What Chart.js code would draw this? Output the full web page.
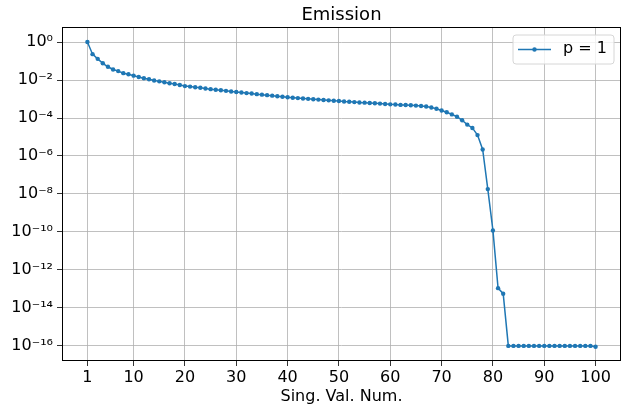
<!DOCTYPE html>
<html>
<head>
<meta charset="utf-8">
<title>Emission</title>
<script src="https://cdn.jsdelivr.net/npm/chart.js@4/dist/chart.umd.min.js"></script>
<style>
  html, body { margin: 0; padding: 0; background: #fff; }
  #wrap { width: 630px; height: 408px; }
</style>
</head>
<body>
<div id="wrap"><canvas id="chart" width="630" height="408"></canvas></div>
<script>
// Singular values of the emission operator, p = 1
const emission = [
  1.0e0, 2.3e-1, 1.3e-1, 7.6e-2, 5.0e-2, 3.6e-2, 2.95e-2, 2.3e-2, 2.0e-2, 1.7e-2,
  1.45e-2, 1.23e-2, 1.1e-2, 9.5e-3, 8.5e-3, 7.6e-3, 6.8e-3, 6.2e-3, 5.5e-3, 4.8e-3,
  4.5e-3, 4.2e-3, 3.9e-3, 3.55e-3, 3.3e-3, 3.1e-3, 2.9e-3, 2.7e-3, 2.5e-3, 2.35e-3,
  2.2e-3, 2.05e-3, 1.95e-3, 1.8e-3, 1.7e-3, 1.6e-3, 1.5e-3, 1.4e-3, 1.32e-3, 1.23e-3,
  1.17e-3, 1.12e-3, 1.07e-3, 1.02e-3, 9.8e-4, 9.3e-4, 8.9e-4, 8.5e-4, 8.1e-4, 7.8e-4,
  7.4e-4, 7.2e-4, 6.9e-4, 6.6e-4, 6.45e-4, 6.2e-4, 6.0e-4, 5.75e-4, 5.5e-4, 5.25e-4,
  5.1e-4, 4.9e-4, 4.8e-4, 4.7e-4, 4.5e-4, 4.3e-4, 4.0e-4, 3.6e-4, 3.1e-4, 2.5e-4,
  2.0e-4, 1.55e-4, 1.17e-4, 7.6e-5, 4.5e-5, 3.0e-5, 1.26e-5, 2.2e-6, 1.8e-8, 1.2e-10,
  1.1e-13, 5.6e-14, 1.0e-16, 1.0e-16, 1.0e-16, 1.0e-16, 1.0e-16, 1.0e-16, 1.0e-16, 1.0e-16,
  1.0e-16, 1.0e-16, 1.0e-16, 1.0e-16, 1.0e-16, 1.0e-16, 1.0e-16, 1.0e-16, 1.0e-16, 9.0e-17
];
const singNum = emission.map((_, i) => i + 1);

const xTicks = [1, 10, 20, 30, 40, 50, 60, 70, 80, 90, 100];
const yTicks = [1e0, 1e-2, 1e-4, 1e-6, 1e-8, 1e-10, 1e-12, 1e-14, 1e-16];
const yTickLabels = ['10⁰', '10⁻²', '10⁻⁴', '10⁻⁶', '10⁻⁸', '10⁻¹⁰', '10⁻¹²', '10⁻¹⁴', '10⁻¹⁶'];

const BLUE = '#1f77b4';
const FONT = '"DejaVu Sans", sans-serif';

// Title, frame and the in-axes legend
const decorations = {
  id: 'decorations',
  afterDraw(chart) {
    const { ctx, chartArea: a } = chart;
    ctx.save();
    // frame (top and right spines too)
    ctx.strokeStyle = '#000';
    ctx.lineWidth = 1;
    ctx.strokeRect(a.left + 0.5, a.top + 0.5, a.right - a.left - 1, a.bottom - a.top - 1);

    // title
    ctx.fillStyle = '#000';
    ctx.font = '18px ' + FONT;
    ctx.textAlign = 'center';
    ctx.textBaseline = 'middle';
    ctx.fillText('Emission', (a.left + a.right) / 2, 15);

    // legend box
    const bx = 513, by = 35, bw = 101, bh = 29, r = 3;
    ctx.beginPath();
    ctx.moveTo(bx + r, by);
    ctx.arcTo(bx + bw, by, bx + bw, by + bh, r);
    ctx.arcTo(bx + bw, by + bh, bx, by + bh, r);
    ctx.arcTo(bx, by + bh, bx, by, r);
    ctx.arcTo(bx, by, bx + bw, by, r);
    ctx.closePath();
    ctx.fillStyle = 'rgba(255,255,255,0.8)';
    ctx.fill();
    ctx.strokeStyle = '#d6d6d6';
    ctx.stroke();

    ctx.strokeStyle = BLUE;
    ctx.lineWidth = 1.5;
    ctx.beginPath();
    ctx.moveTo(518, 49.5);
    ctx.lineTo(551, 49.5);
    ctx.stroke();
    ctx.fillStyle = BLUE;
    ctx.beginPath();
    ctx.arc(534.5, 49.5, 2.2, 0, Math.PI * 2);
    ctx.fill();

    ctx.fillStyle = '#000';
    ctx.font = '16px ' + FONT;
    ctx.textAlign = 'left';
    ctx.fillText(chart.data.datasets[0].label, 563, 49);
    ctx.restore();
  }
};

const ctx = document.getElementById('chart').getContext('2d');
const chart = new Chart(ctx, {
  type: 'line',
  data: {
    labels: singNum,
    datasets: [{
      label: 'p = 1',
      data: singNum.map((n, i) => ({ x: n, y: emission[i] })),
      borderColor: BLUE,
      backgroundColor: BLUE,
      borderWidth: 1.5,
      pointRadius: 2.2,
      pointHoverRadius: 2.2,
      pointBorderWidth: 0,
      tension: 0,
      fill: false
    }]
  },
  options: {
    responsive: false,
    animation: false,
    devicePixelRatio: 1,
    layout: { padding: { top: 27, right: 9, left: 0, bottom: 0 } },
    plugins: {
      legend: { display: false },
      title: { display: false },
      tooltip: { enabled: false }
    },
    scales: {
      x: {
        type: 'linear',
        min: -3.95,
        max: 104.95,
        afterBuildTicks: (scale) => { scale.ticks = xTicks.map(v => ({ value: v })); },
        afterFit: (scale) => { scale.height = 47; },
        ticks: {
          color: '#000',
          font: { family: FONT, size: 16 },
          padding: 2,
          maxRotation: 0,
          autoSkip: false
        },
        grid: { color: '#b0b0b0', lineWidth: 0.8, tickColor: '#000', tickLength: 5 },
        border: { display: false },
        title: {
          display: true,
          text: 'Sing. Val. Num.',
          color: '#000',
          font: { family: FONT, size: 16 },
          padding: { top: 0, bottom: 2 }
        }
      },
      y: {
        type: 'logarithmic',
        min: 1.6e-17,
        max: 6.2,
        afterBuildTicks: (scale) => { scale.ticks = yTicks.map(v => ({ value: v })); },
        afterFit: (scale) => { scale.width = 62; },
        ticks: {
          color: '#000',
          font: { family: FONT, size: 16 },
          padding: 4,
          autoSkip: false,
          callback: (value) => {
            const i = yTicks.findIndex(t => Math.abs(Math.log10(t) - Math.log10(value)) < 1e-6);
            return i >= 0 ? yTickLabels[i] : '';
          }
        },
        grid: { color: '#b0b0b0', lineWidth: 0.8, tickColor: '#000', tickLength: 5 },
        border: { display: false }
      }
    }
  },
  plugins: [decorations]
});
</script>
</body>
</html>
